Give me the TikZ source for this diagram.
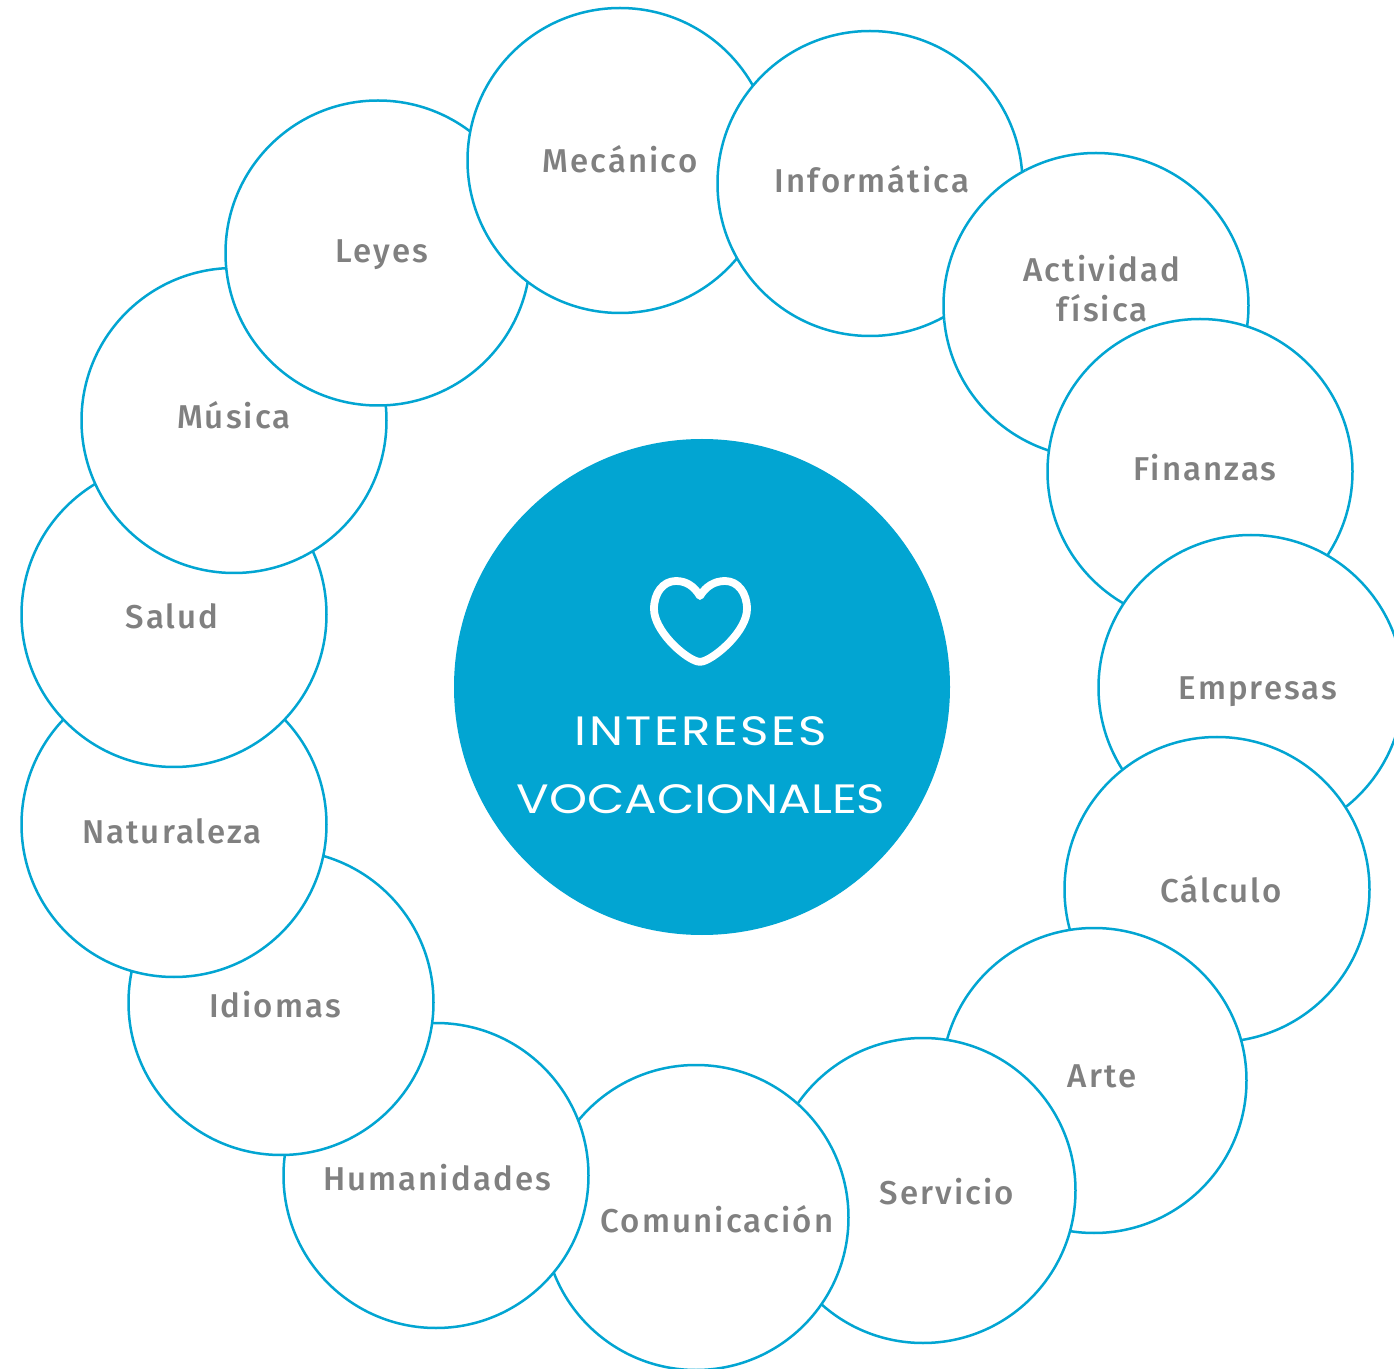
\documentclass[tikz,border=0pt]{standalone}
\usepackage{fontspec}
\setmainfont{Liberation Sans}
\newfontfamily\lblfont[UprightFont=* Medium,LetterSpace=6.3]{Fira Sans}
\newfontfamily\ttlfont[FakeStretch=1.18]{Poppins}
\newfontfamily\ttlwfont[FakeStretch=1.18,LetterSpace=6]{Poppins}
\definecolor{vocblue}{HTML}{02A5D2}
\definecolor{voctext}{HTML}{808080}
\tikzset{
  bub/.style={circle,draw=vocblue,fill=white,line width=1.25pt,minimum size=152.5pt,inner sep=0pt,outer sep=0pt},
  lbl/.style={anchor=base,text=voctext,font=\lblfont\fontsize{16.5pt}{19pt}\selectfont,inner sep=0pt,outer sep=0pt},
  ttl/.style={anchor=base,text=white,inner sep=0pt,outer sep=0pt},
  hub/.style={circle,fill=vocblue,minimum size=248pt,inner sep=0pt,outer sep=0pt}
}
\begin{document}
\begin{tikzpicture}[x=0.5pt,y=-0.5pt]
\useasboundingbox (0,0) rectangle (1394,1369);
\fill[white] (0,0) rectangle (1394,1369);
\begin{scope}[shift={(0,0.5)}]
% lowest to highest in the ring
\node[bub] (act) at (1096,305) {};
\node[bub] (fin) at (1200,471) {};
\node[bub] (emp) at (1251,687) {};
\node[bub] (cal) at (1217,889) {};
\node[bub] (art) at (1094,1080) {};
\node[bub] (ser) at (923,1190) {};
\node[bub] (com) at (696,1217) {};
\node[bub] (hum) at (436,1175) {};
\node[bub] (idi) at (281,1002) {};
\node[bub] (nat) at (174,824) {};
\node[bub] (sal) at (174,614) {};
\node[bub] (mus) at (234,420) {};
\node[bub] (ley) at (378,252.5) {};
\node[bub] (mec) at (620,160) {};
\node[bub] (inf) at (870,183) {};
% the ring closes: Actividad lies over Informatica
\begin{scope}
\clip (870,183) circle[radius=156];
\node[bub] (actb) at (1096,305) {};
\end{scope}
\end{scope}
\node[hub] (hubc) at (702,687) {};
\draw[white,line width=3.9pt,line join=round,line cap=round]
  (700,596) .. controls (694,586) and (686,581) .. (676,581)
  .. controls (663,581) and (654,593) .. (654,609)
  .. controls (654,630) and (682,656) .. (696,661)
  .. controls (698,662) and (702,662) .. (704,661)
  .. controls (718,656) and (747,630) .. (747,609)
  .. controls (747,593) and (738,581) .. (725,581)
  .. controls (715,581) and (706,586) .. (700,596) -- cycle;
\node[ttl,font=\ttlwfont\fontsize{20.5pt}{25pt}\selectfont] (t1) at (701,746) {INTERESES};
\node[ttl,font=\ttlfont\fontsize{20.5pt}{25pt}\selectfont] (t2) at (701,813) {VOCACIONALES};
\node[lbl] (lmec) at (620,173) {Mecánico};
\node[lbl] (linf) at (872,193) {Informática};
\node[lbl] (lact) at (1102,282) {Actividad};
\node[lbl] (lfis) at (1102,322) {física};
\node[lbl] (lfin) at (1205,481) {Finanzas};
\node[lbl] (lemp) at (1258,700) {Empresas};
\node[lbl] (lcal) at (1221,902) {Cálculo};
\node[lbl] (lart) at (1102,1087) {Arte};
\node[lbl] (lser) at (947,1204) {Servicio};
\node[lbl] (lcom) at (717,1232) {Comunicación};
\node[lbl] (lhum) at (437,1190) {Humanidades};
\node[lbl] (lidi) at (275,1017) {Idiomas};
\node[lbl] (lnat) at (172,843) {Naturaleza};
\node[lbl] (lsal) at (172,629) {Salud};
\node[lbl] (lmus) at (234,429) {Música};
\node[lbl] (lley) at (382,263) {Leyes};
\end{tikzpicture}
\end{document}
